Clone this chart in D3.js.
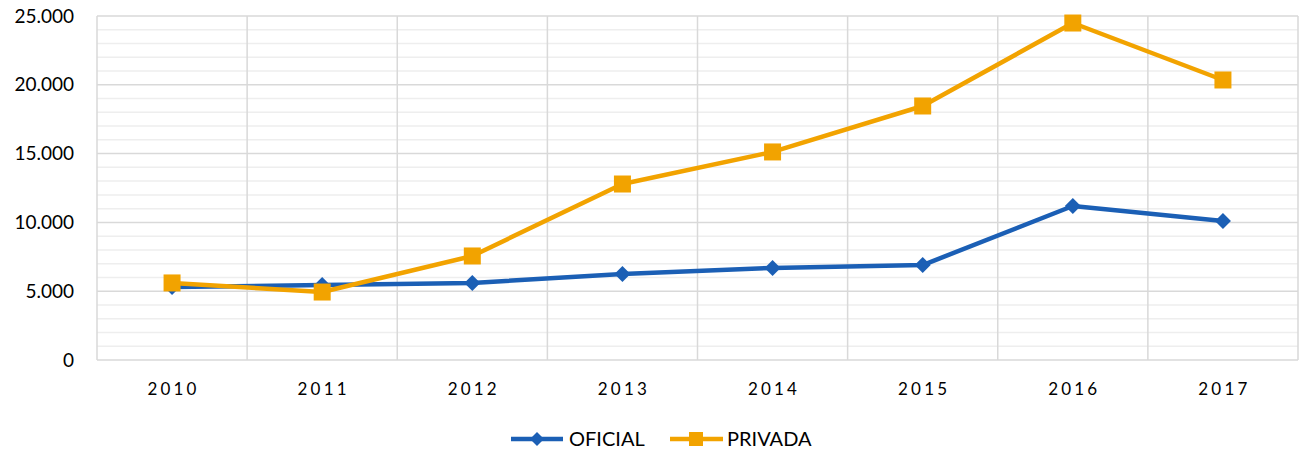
<!DOCTYPE html>
<html><head><meta charset="utf-8">
<script src="https://cdn.jsdelivr.net/npm/d3@7"></script>
<style>body{margin:0;background:#fff;}svg{display:block;font-family:Lato,"Open Sans",sans-serif;}</style>
</head><body><svg id="c" width="1301" height="450"></svg>
<script>
const years = ["2010","2011","2012","2013","2014","2015","2016","2017"];
const oficial = [5300, 5450, 5600, 6250, 6690, 6900, 11190, 10100];
const privada = [5600, 4940, 7560, 12790, 15120, 18460, 24490, 20350];
const yTicks = [0, 5000, 10000, 15000, 20000, 25000];
const seriesNames = ["OFICIAL", "PRIVADA"];
const colors = ["#1B5FB5", "#F2A300"];

const svg = d3.select("#c");
const L = 97, R = 1298, T = 16, B = 360;
const x = d3.scaleBand().domain(years).range([L, R]);
const y = d3.scaleLinear().domain([0, 25000]).range([B, T]);
const fmt = v => d3.format(",")(v).replace(/,/g, ".");

// minor gridlines
const minor = d3.range(0, 25001, 1000).filter(v => v % 5000 !== 0);
svg.append("g").selectAll("line").data(minor).join("line")
  .attr("x1", L).attr("x2", R).attr("y1", d => y(d)).attr("y2", d => y(d))
  .attr("stroke", "#eeeeee").attr("stroke-width", 1.5);
// major gridlines
svg.append("g").selectAll("line").data(yTicks.filter(v => v > 0)).join("line")
  .attr("x1", L).attr("x2", R).attr("y1", d => y(d)).attr("y2", d => y(d))
  .attr("stroke", "#d9d9d9").attr("stroke-width", 1.5);
// vertical gridlines
const vx = years.map(d => x(d)).concat([R]);
svg.append("g").selectAll("line").data(vx).join("line")
  .attr("x1", d => d).attr("x2", d => d).attr("y1", T).attr("y2", B)
  .attr("stroke", "#d9d9d9").attr("stroke-width", 1.5);
// bottom axis line
svg.append("line").attr("x1", L).attr("x2", R).attr("y1", B).attr("y2", B)
  .attr("stroke", "#d9d9d9").attr("stroke-width", 1.5);

// y labels
svg.append("g").selectAll("text").data(yTicks).join("text")
  .attr("x", 74).attr("y", d => y(d)).attr("dy", "0.35em")
  .attr("text-anchor", "end").attr("font-size", 19).attr("fill", "#000")
  .text(d => fmt(d));
// x labels
svg.append("g").selectAll("text").data(years).join("text")
  .attr("x", d => x(d) + x.bandwidth() / 2 + 1.5).attr("y", 395)
  .attr("text-anchor", "middle").attr("font-size", 17).attr("letter-spacing", "3.2px")
  .attr("fill", "#000").text(d => d);

const cx = d => x(d) + x.bandwidth() / 2;
const line = d3.line().x((d, i) => cx(years[i])).y(d => y(d));

function diamond(g, px, py, s, c) {
  g.append("path").attr("d", `M${px},${py - s}L${px + s},${py}L${px},${py + s}L${px - s},${py}Z`).attr("fill", c);
}
function square(g, px, py, s, c) {
  g.append("rect").attr("x", px - s).attr("y", py - s).attr("width", 2 * s).attr("height", 2 * s).attr("fill", c);
}

// OFICIAL
svg.append("path").datum(oficial).attr("d", line).attr("fill", "none")
  .attr("stroke", colors[0]).attr("stroke-width", 4.5).attr("stroke-linejoin", "round");
const gO = svg.append("g");
oficial.forEach((v, i) => diamond(gO, cx(years[i]), y(v), 8, colors[0]));
// PRIVADA
svg.append("path").datum(privada).attr("d", line).attr("fill", "none")
  .attr("stroke", colors[1]).attr("stroke-width", 4.5).attr("stroke-linejoin", "round");
const gP = svg.append("g");
privada.forEach((v, i) => square(gP, cx(years[i]), y(v), 8.5, colors[1]));

// legend
const lg = svg.append("g");
const ly = 439;
lg.append("line").attr("x1", 511).attr("x2", 563).attr("y1", ly).attr("y2", ly).attr("stroke", colors[0]).attr("stroke-width", 4.5);
diamond(lg, 537, ly, 7, colors[0]);
lg.append("text").attr("x", 569).attr("y", ly).attr("dy", "0.36em").attr("font-size", 20).text(seriesNames[0]);
lg.append("line").attr("x1", 670).attr("x2", 723).attr("y1", ly).attr("y2", ly).attr("stroke", colors[1]).attr("stroke-width", 4.5);
square(lg, 696, ly, 7, colors[1]);
lg.append("text").attr("x", 727).attr("y", ly).attr("dy", "0.36em").attr("font-size", 20).text(seriesNames[1]);
</script></body></html>
